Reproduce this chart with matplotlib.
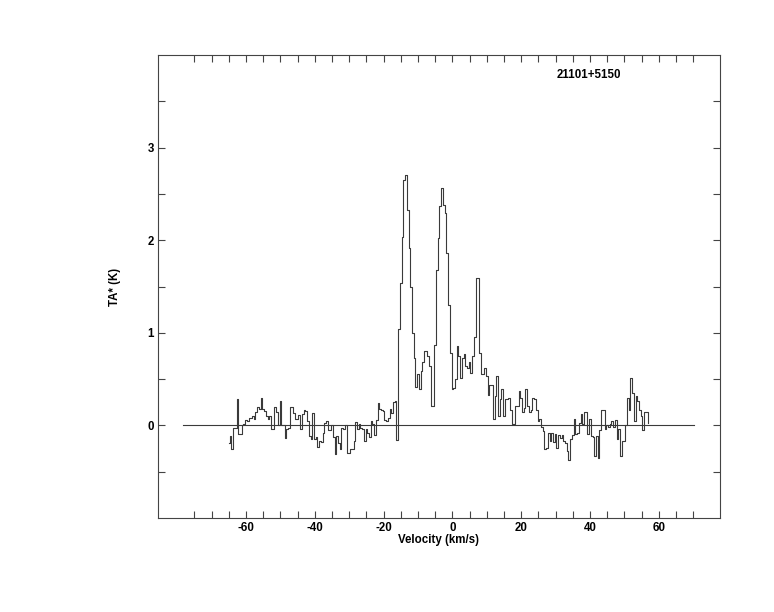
import numpy as np
import matplotlib.pyplot as plt
from matplotlib.ticker import FixedLocator

# Spectrum: 0.5 km/s channels starting at -65 km/s
v_start = -65.0
dv = 0.5
ta = [
    -0.19, -0.11, -0.25, -0.03, -0.03, 0.28, -0.09, -0.09, 0.00, 0.01,
    0.06, 0.05, 0.08, 0.08, 0.10, 0.07, 0.14, 0.20, 0.18, 0.30,
    0.18, 0.16, 0.10, 0.07, 0.10, -0.04, -0.04, 0.20, 0.14, 0.00,
    0.26, 0.00, 0.00, -0.14, -0.04, -0.03, 0.20, 0.20, 0.13, 0.07,
    0.07, 0.11, -0.04, 0.12, 0.17, 0.16, 0.05, -0.11, -0.15, 0.13,
    -0.15, -0.12, -0.23, -0.17, -0.18, -0.08, 0.03, 0.05, -0.05, -0.05,
    0.00, -0.12, -0.31, -0.11, -0.19, -0.25, -0.03, -0.04, 0.00, -0.30,
    -0.30, -0.26, -0.26, -0.17, 0.04, -0.04, 0.01, -0.03, -0.04, -0.17,
    -0.04, -0.08, -0.12, 0.05, 0.01, -0.10, 0.06, 0.24, 0.18, 0.17,
    0.155, 0.06, 0.05, 0.08, 0.18, 0.13, 0.25, 0.26, -0.16, 1.04,
    1.54, 2.04, 2.65, 2.70, 2.33, 1.92, 1.50, 1.00, 0.73, 0.42,
    0.55, 0.39, 0.59, 0.69, 0.80, 0.80, 0.75, 0.64, 0.21, 0.21,
    0.87, 1.68, 2.02, 2.37, 2.56, 2.38, 2.29, 1.86, 1.30, 0.78,
    0.39, 0.40, 0.50, 0.86, 0.75, 0.51, 0.73, 0.77, 0.64, 0.62,
    0.68, 0.57, 0.75, 0.96, 1.59, 1.59, 0.78, 0.55, 0.55, 0.62,
    0.53, 0.33, 0.44, 0.44, 0.065, 0.32, 0.53, 0.10, 0.28, 0.39,
    0.10, 0.28, 0.28, 0.30, 0.17, 0.01, 0.01, 0.21, 0.21, 0.37,
    0.30, 0.15, 0.19, 0.39, 0.21, 0.14, 0.17, 0.30, 0.28, 0.17,
    0.05, 0.07, -0.02, -0.06, -0.26, -0.24, -0.08, -0.17, -0.08, -0.18,
    -0.09, -0.24, -0.10, -0.14, -0.10, -0.17, -0.19, -0.28, -0.37, -0.15,
    -0.10, 0.07, -0.09, -0.08, 0.03, 0.12, 0.01, 0.14, 0.14, -0.09,
    0.07, -0.11, -0.13, -0.33, -0.11, -0.35, -0.05, 0.17, 0.17, -0.04,
    0.00, -0.02, 0.01, 0.05, -0.02, 0.06, -0.15, -0.04, -0.33, -0.17,
    -0.17, 0.00, 0.30, 0.17, 0.51, 0.35, 0.05, 0.32, 0.26, 0.17,
    0.10, -0.05, 0.14, 0.14, 0.03,
]
velocity = v_start + dv * np.arange(len(ta))

baseline_v = [-78.3, 70.2]
source_name = "21101+5150"
x_labels = [-60, -40, -20, 0, 20, 40, 60]
x_minor = np.arange(-75, 71, 5)
y_labels = [0, 1, 2, 3]
y_minor = np.arange(-0.5, 3.6, 0.5)

plt.rcParams['font.family'] = ['Liberation Sans', 'DejaVu Sans']
plt.rcParams['font.weight'] = 'bold'
plt.rcParams['axes.unicode_minus'] = False

fig = plt.figure(figsize=(7.74, 6.12), dpi=100)
ax = fig.add_axes([0.2041, 0.1536, 0.7261, 0.7565])

lc = '#3a3a3a'
ax.plot(velocity, ta, drawstyle='steps-mid', color=lc, lw=0.8)
ax.plot(baseline_v, [0, 0], color=lc, lw=0.8)

ax.set_xlim(-85.6, 77.8)
ax.set_ylim(-1.0, 4.0)

ax.set_xticks(x_labels)
ax.set_xticklabels([str(t) for t in x_labels])
ax.xaxis.set_minor_locator(FixedLocator(x_minor))
ax.set_yticks(y_labels)
ax.set_yticklabels([str(t) for t in y_labels])
ax.yaxis.set_minor_locator(FixedLocator(y_minor))

fs = 8.3
ax.tick_params(which='both', direction='in', top=True, right=True,
               length=5, width=0.8, color='#444444', labelsize=fs)
ax.tick_params(axis='x', pad=3)
ax.tick_params(axis='y', pad=3)
for s in ax.spines.values():
    s.set_color('#444444')
    s.set_linewidth(0.8)

ax.set_xlabel('Velocity (km/s)', fontsize=fs, fontweight='bold', labelpad=0)
ax.set_ylabel('TA* (K)', fontsize=fs, fontweight='bold', labelpad=19)
fig.text(557 / 774, 1 - 75.5 / 612, source_name, fontsize=fs,
         fontweight='bold', va='center', ha='left')

fig.savefig('out.png', dpi=100)
